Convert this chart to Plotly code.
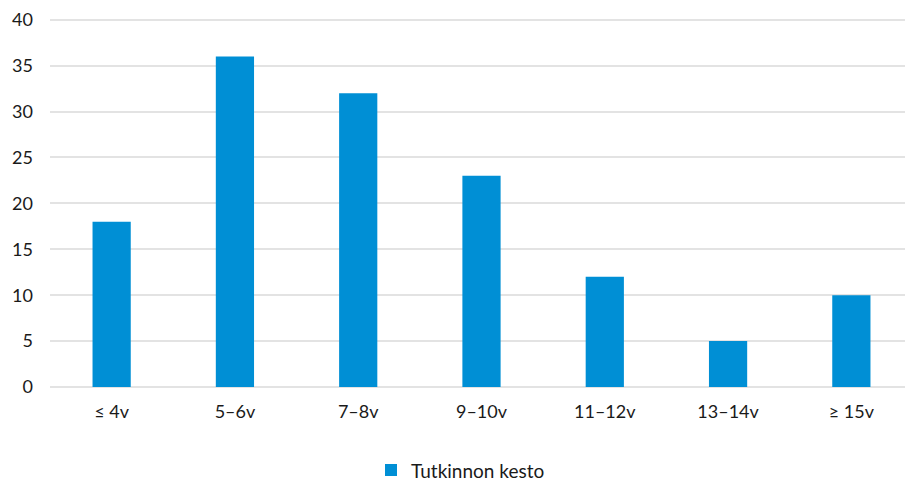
import plotly.graph_objects as go

categories = ["≤ 4v", "5–6v", "7–8v", "9–10v", "11–12v", "13–14v", "≥ 15v"]
values = [18, 36, 32, 23, 12, 5, 10]
series_name = "Tutkinnon kesto"
y_ticks = [0, 5, 10, 15, 20, 25, 30, 35, 40]

fig = go.Figure()
fig.add_trace(go.Bar(
    x=categories, y=values, name=series_name,
    marker=dict(color="#008fd5", line=dict(width=0)),
    width=0.31,
))

font = dict(family="Lato, Open Sans, sans-serif", size=18, color="#1a1a1a")
fig.update_layout(
    width=905, height=479,
    margin=dict(l=42, r=0, t=6, b=100),
    paper_bgcolor="white", plot_bgcolor="white",
    font=font,
    showlegend=True,
    legend=dict(orientation="h", xref="container", x=0.5, xanchor="center",
                yref="container", y=0.035, yanchor="middle",
                font=dict(size=19, color="#1a1a1a")),
)
fig.update_yaxes(range=[0, 40.3], tickvals=y_ticks, showgrid=True,
                 gridcolor="#e3e3e3", gridwidth=1.5, zeroline=True,
                 zerolinecolor="#e3e3e3", zerolinewidth=1.5,
                 ticks="", ticklabelstandoff=16, showline=False,
                 ticklabeloverflow="allow")
fig.update_xaxes(showgrid=False, ticks="", ticklabelstandoff=12, showline=False)

fig.write_html("out.html")
